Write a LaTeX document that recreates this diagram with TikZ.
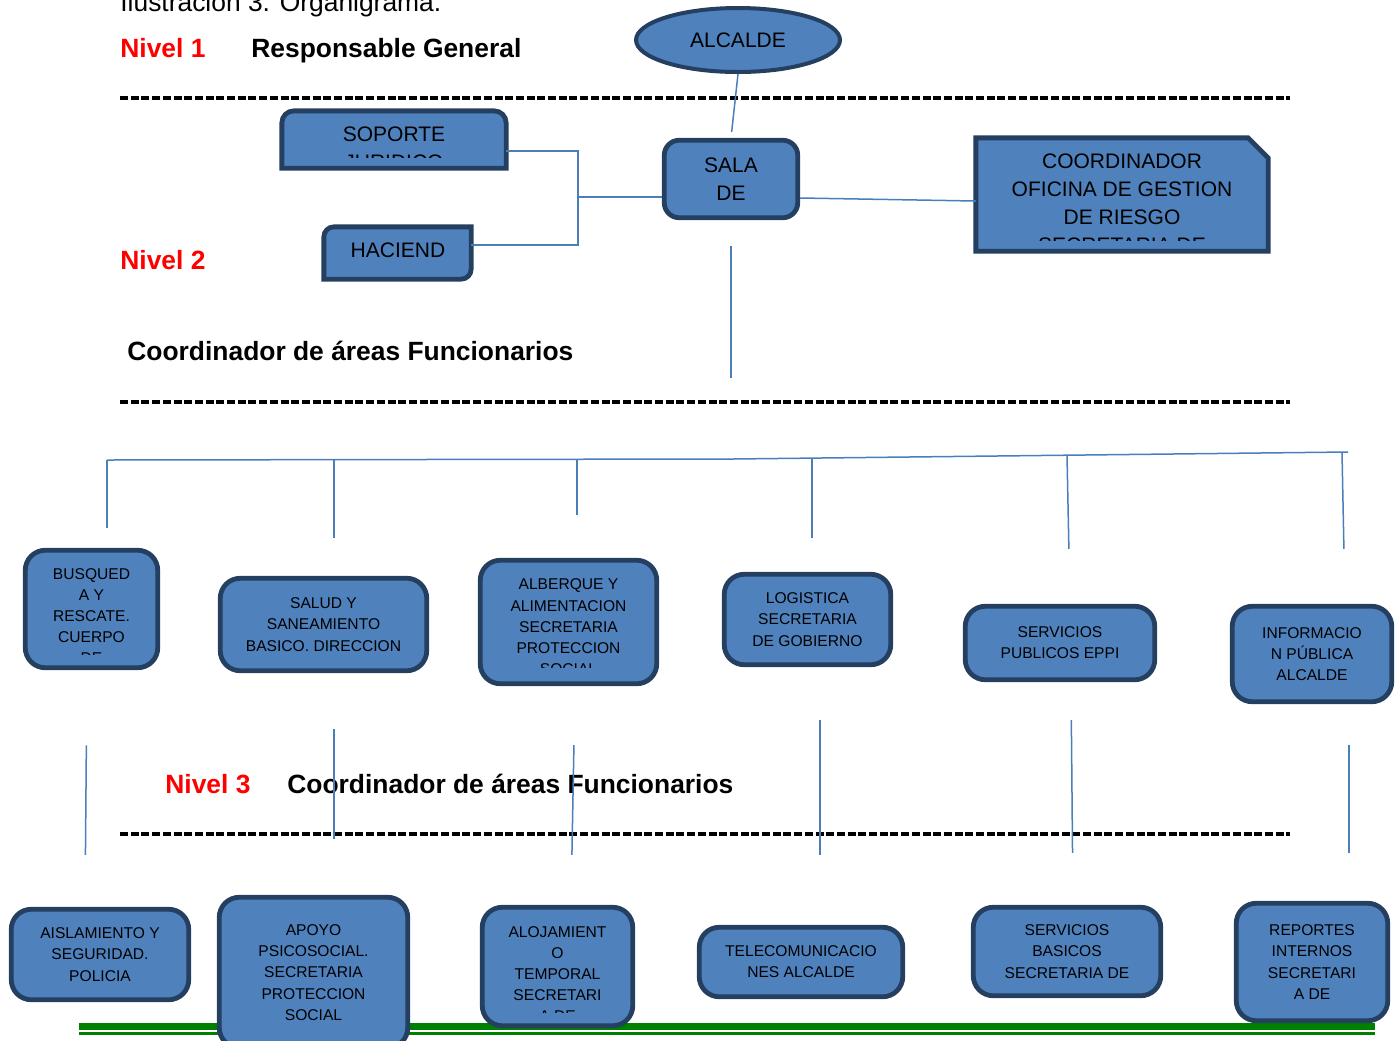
\documentclass[tikz,border=0pt]{standalone}
\usepackage{fontspec}
\setmainfont{Liberation Sans}
\usetikzlibrary{shapes.geometric}
\definecolor{boxfill}{HTML}{4F81BD}
\definecolor{boxedge}{HTML}{243F60}
\definecolor{linkblue}{HTML}{4A7EBB}
\definecolor{rulegreen}{HTML}{008000}
\newcommand\headfont{\fontsize{13.2}{16}\selectfont}
\newcommand\bigboxfont{\fontsize{10.5}{14}\selectfont}
\newcommand\smallboxfont{\fontsize{7.8}{10.6}\selectfont}
\tikzset{
  box/.style={draw=boxedge, fill=boxfill, line width=2.4pt, rounded corners=10pt, inner sep=0pt, align=center, font=\smallboxfont},
  bigbox/.style={box, font=\bigboxfont, rounded corners=7.5pt},
  shell/.style={draw=boxedge, fill=boxfill, line width=2.4pt},
  blank/.style={inner sep=0pt},
  boxtext/.style={inner sep=0pt, align=center, font=\smallboxfont},
  bigtext/.style={inner sep=0pt, align=center, font=\bigboxfont},
  level/.style={inner sep=0pt, anchor=base west, font=\headfont\bfseries, text=red},
  heading/.style={inner sep=0pt, anchor=base west, font=\headfont\bfseries},
  link/.style={draw=linkblue, line width=0.75pt},
  divider/.style={line width=1.6pt, dash pattern=on 4pt off 1.35pt},
}
\begin{document}
\begin{tikzpicture}[x=0.5pt, y=-0.5pt]
    \useasboundingbox (0,0) rectangle (1398,1040);
    \node[heading, font=\headfont] (caption) at (120,11) {Ilustración 3. Organigrama.};
    \node[level] (nivel 1) at (120,57) {Nivel 1};
    \node[heading] (responsable) at (251,57) {Responsable General};
    \node[level] (nivel 2) at (120,269) {Nivel 2};
    \node[heading] (areas 2) at (127,360) {Coordinador de áreas Funcionarios};
    \node[level] (nivel 3) at (165,793) {Nivel 3};
    \node[heading] (areas 3) at (287,793) {Coordinador de áreas Funcionarios};
    \draw[divider] (120,98) -- (1290,98);
    \draw[divider] (120,402) -- (1290,402);
    \draw[divider] (120,834) -- (1290,834);
    \fill[rulegreen] (79,1023) rectangle (1375,1030);
    \fill[rulegreen] (79,1032) rectangle (1375,1034.5);
    \node[ellipse, draw=boxedge, fill=boxfill, line width=2pt, minimum width=102pt, minimum height=32pt, inner sep=0pt, font=\bigboxfont] (alcalde) at (738,40) {ALCALDE};
    \node[bigbox, minimum width=66.75pt, minimum height=38.75pt] (sala) at (731,179) {SALA\\DE};
    \node[blank, minimum width=111.75pt, minimum height=28.25pt] (soporte) at (394,139.5) {};
    \draw[shell] (soporte.south east) -- (soporte.south west) -- ([yshift=-6pt]soporte.north west) arc[start angle=180, end angle=90, radius=6pt] -- ([xshift=-6pt]soporte.north east) arc[start angle=90, end angle=0, radius=6pt] -- cycle;
    \begin{scope}
      \clip (284,113) rectangle (504,157);
      \node[bigtext] (soporte text) at (394,148) {SOPORTE\\JURIDICO};
    \end{scope}
    \node[blank, minimum width=73.25pt, minimum height=25.75pt] (hacienda) at (397.5,253) {};
    \draw[shell] (hacienda.north east) -- ([xshift=5pt]hacienda.north west) arc[start angle=90, end angle=180, radius=5pt] -- (hacienda.south west) -- ([xshift=-5pt]hacienda.south east) arc[start angle=270, end angle=360, radius=5pt] -- cycle;
    \node[bigtext] (hacienda text) at (398,250) {HACIEND};
    \node[blank, minimum width=145.75pt, minimum height=56.25pt] (coordinador) at (1122,194.5) {};
    \draw[shell] (coordinador.south west) -- (coordinador.north west) -- ([xshift=-10pt]coordinador.north east) -- ([yshift=-10pt]coordinador.north east) -- (coordinador.south east) -- cycle;
    \begin{scope}
      \clip (978,140) rectangle (1266,240);
      \node[bigtext] (coordinador text) at (1122,203) {COORDINADOR\\OFICINA DE GESTION\\DE RIESGO\\SECRETARIA DE};
    \end{scope}
    \coordinate (knee) at (578,197);
    \coordinate (trunk) at (731,378);
    \draw[link, shorten >=3pt] (alcalde.south) -- (sala.north);
    \draw[link] ([yshift=-5.75pt]soporte.east) -| (knee) -- (sala.west |- knee);
    \draw[link] ([yshift=4pt]hacienda.east) -| (knee);
    \draw[link] ([yshift=-9.5pt]sala.east) -- ([yshift=-3.25pt]coordinador.west);
    \draw[link, shorten <=13pt] (sala.south) -- (trunk);
    \node[box, minimum width=66.25pt, minimum height=58.75pt] (busqueda) at (91.5,609) {};
    \begin{scope}
      \clip (27,552) rectangle (156,654);
      \node[boxtext] (busqueda text) at (91.5,616) {BUSQUED\\A Y\\RESCATE.\\CUERPO\\DE};
    \end{scope}
    \node[box, minimum width=103.25pt, minimum height=46.25pt] (salud) at (323.5,624.5) {SALUD Y\\SANEAMIENTO\\BASICO. DIRECCION};
    \node[box, minimum width=88.25pt, minimum height=61.75pt] (albergue) at (568.5,622) {};
    \begin{scope}
      \clip (482,562) rectangle (655,667);
      \node[boxtext] (albergue text) at (568.5,627) {ALBERQUE Y\\ALIMENTACION\\SECRETARIA\\PROTECCION\\SOCIAL};
    \end{scope}
    \node[box, minimum width=83.25pt, minimum height=45.25pt] (logistica) at (807.5,619.5) {LOGISTICA\\SECRETARIA\\DE GOBIERNO};
    \node[box, minimum width=94.75pt, minimum height=36.75pt] (publicos) at (1060,643) {SERVICIOS\\PUBLICOS EPPI};
    \node[box, minimum width=79.75pt, minimum height=47.75pt] (informacion) at (1312,654) {INFORMACIO\\N PÚBLICA\\ALCALDE};
    \node[box, minimum width=88.75pt, minimum height=45.25pt] (aislamiento) at (100,954.5) {AISLAMIENTO Y\\SEGURIDAD.\\POLICIA};
    \node[box, minimum width=94.25pt, minimum height=75.25pt] (apoyo) at (313.5,972.5) {APOYO\\PSICOSOCIAL.\\SECRETARIA\\PROTECCION\\SOCIAL};
    \node[box, minimum width=75.25pt, minimum height=59.25pt] (alojamiento) at (557.5,966.5) {};
    \begin{scope}
      \clip (484,909) rectangle (631,1012);
      \node[boxtext] (alojamiento text) at (557.5,974) {ALOJAMIENT\\O\\TEMPORAL\\SECRETARI\\A DE};
    \end{scope}
    \node[box, minimum width=101.75pt, minimum height=34.75pt] (telecom) at (801,962) {TELECOMUNICACIO\\NES ALCALDE};
    \node[box, minimum width=93.75pt, minimum height=44.25pt] (basicos) at (1067,951.5) {SERVICIOS\\BASICOS\\SECRETARIA DE};
    \node[box, minimum width=75.75pt, minimum height=58.75pt] (reportes) at (1312,962) {REPORTES\\INTERNOS\\SECRETARI\\A DE};
    \coordinate (bus west) at (107,460);
    \coordinate (bus mid) at (733,459);
    \coordinate (bus east) at (1348,452);
    \coordinate (tap salud) at (334,459.6);
    \coordinate (tap albergue) at (577,459.2);
    \coordinate (tap logistica) at (812,458.1);
    \coordinate (tap publicos) at (1067,455.2);
    \coordinate (tap informacion) at (1342,452.1);
    \draw[link] (bus west) -- (bus mid) -- (bus east);
    \draw[link, shorten >=10pt] (bus west) -- ([xshift=7.75pt]busqueda.north);
    \draw[link, shorten >=19pt] (tap salud) -- ([xshift=5.25pt]salud.north);
    \draw[link, shorten >=21.5pt] (tap albergue) -- ([xshift=4.25pt]albergue.north);
    \draw[link, shorten >=17pt] (tap logistica) -- ([xshift=2.25pt]logistica.north);
    \draw[link, shorten >=27.5pt] (tap publicos) -- ([xshift=5pt]publicos.north);
    \draw[link, shorten >=27.5pt] (tap informacion) -- ([xshift=16.5pt]informacion.north);
    \draw[link, shorten <=37.6pt, shorten >=26pt] ([xshift=-2.25pt]busqueda.south) -- ([xshift=-7.5pt]aislamiento.north);
    \draw[link, shorten <=28pt, shorten >=28pt] ([xshift=5.25pt]salud.south) -- ([xshift=10.25pt]apoyo.north);
    \draw[link, shorten <=29.5pt, shorten >=25pt] ([xshift=3.25pt]albergue.south) -- ([xshift=6.75pt]alojamiento.north);
    \draw[link, shorten <=26.5pt, shorten >=35pt] ([xshift=6.25pt]logistica.south) -- ([xshift=9.5pt]telecom.north);
    \draw[link, shorten <=19pt, shorten >=26pt] ([xshift=5.5pt]publicos.south) -- ([xshift=3pt]basicos.north);
    \draw[link, shorten <=20.5pt, shorten >=24pt] ([xshift=18.5pt]informacion.south) -- ([xshift=18.5pt]reportes.north);
\end{tikzpicture}
\end{document}
